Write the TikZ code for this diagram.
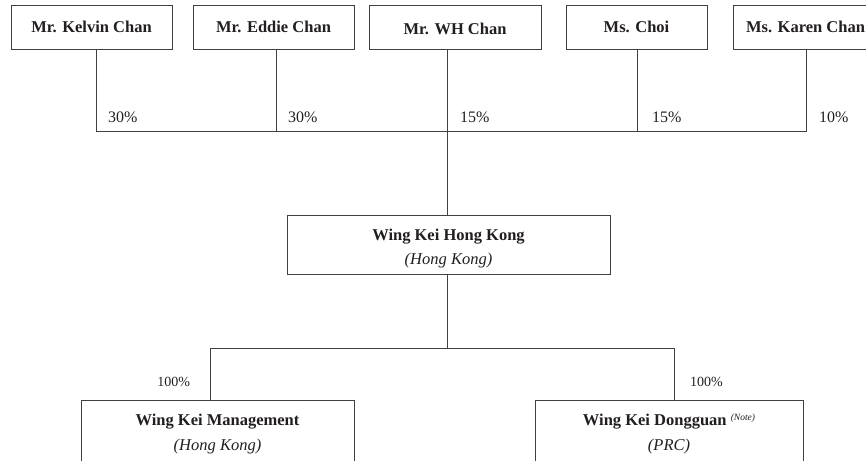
\documentclass[tikz,border=0pt]{standalone}
\usepackage{fontspec}
\setmainfont{Liberation Serif}
\definecolor{ink}{HTML}{231F20}
\definecolor{rule}{HTML}{404040}
\begin{document}
\begin{tikzpicture}[x=1pt,y=-1pt,
  every node/.style={inner sep=0pt, outer sep=0pt, text=ink},
  box/.style={draw=rule, line width=0.9pt, fill=white},
  person/.style={box, minimum height=44pt, font=\fontsize{16.5}{20}\selectfont\bfseries},
  boxtext/.style={align=center, font=\fontsize{16.5}{24}\selectfont},
  pct/.style={font=\fontsize{16}{18}\selectfont, anchor=west},
  pctb/.style={font=\fontsize{14}{16}\selectfont},
  conn/.style={draw=rule, line width=0.9pt}]
\useasboundingbox (0,0) rectangle (866,460);
\clip (0,0) rectangle (866,460);
% shareholders
\node[person, minimum width=161pt] (k1) at (91.5,27) {Mr. Kelvin Chan};
\node[person, minimum width=161pt] (k2) at (273.5,27) {Mr. Eddie Chan};
\node[person, minimum width=172pt] (k3) at (455,27) {\raisebox{-2pt}[\height][\depth]{Mr. WH Chan}};
\node[person, minimum width=141pt] (k4) at (636.5,27) {Ms. Choi};
\node[person, minimum width=145pt] (k5) at (805.5,27) {Ms. Karen Chan};
% companies
\node[box, minimum width=323pt, minimum height=59pt] (hk) at (448.5,244.5) {};
\node[boxtext] (hkT) at (448.5,249) {\textbf{Wing Kei Hong Kong}\\[0pt]\textit{(Hong Kong)}};
\node[box, minimum width=273pt, minimum height=67pt] (mg) at (217.5,433.5) {};
\node[boxtext] (mgT) at (217.5,434) {\textbf{Wing Kei Management}\\[1pt]\textit{(Hong Kong)}};
\node[box, minimum width=268pt, minimum height=67pt] (dg) at (669,433.5) {};
\node[boxtext] (dgT) at (669,434) {\textbf{Wing Kei Dongguan} {\raisebox{5pt}{\fontsize{9.5}{10}\selectfont\itshape(Note)}}\\[1pt]\textit{(PRC)}};
% junctions
\coordinate (j1) at (96,131);
\coordinate (j2) at (276,131);
\coordinate (j3) at (447,131);
\coordinate (j4) at (637,131);
\coordinate (j5) at (806,131);
\coordinate (m) at (447,348);
\coordinate (mL) at (210,348);
\coordinate (mR) at (674,348);
% connectors
\draw[conn] (k1.south -| j1) -- (j1) -- (j5) -- (k5.south -| j5);
\draw[conn] (k2.south -| j2) -- (j2);
\draw[conn] (k3.south -| j3) -- (hk.north -| j3);
\draw[conn] (k4.south -| j4) -- (j4);
\draw[conn] (hk.south -| m) -- (m);
\draw[conn] (mg.north -| mL) -- (mL) -- (mR) -- (dg.north -| mR);
% percentages
\node[pct] (p1) at ([xshift=12pt,yshift=14pt]j1) {30\%};
\node[pct] (p2) at ([xshift=12pt,yshift=14pt]j2) {30\%};
\node[pct] (p3) at ([xshift=13pt,yshift=14pt]j3) {15\%};
\node[pct] (p4) at ([xshift=15pt,yshift=14pt]j4) {15\%};
\node[pct] (p5) at ([xshift=13pt,yshift=14pt]j5) {10\%};
\node[pctb, anchor=east] (p6) at (190,382) {100\%};
\node[pctb, anchor=west] (p7) at (690,382) {100\%};
\end{tikzpicture}
\end{document}
